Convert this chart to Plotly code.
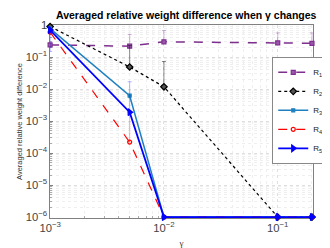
import plotly.graph_objects as go

gamma = [0.001, 0.005, 0.01, 0.1, 0.2]
R1 = [0.24, 0.22, 0.30, 0.28, 0.27]
R1_up = [0.0, 0.29, 0.38, 0.29, 0.30]
R2 = [0.9, 0.049, 0.0118, 1e-6, 1e-6]
R2_up = [0.0, 0.18, 0.061, 0.0, 0.0]
R3 = [0.78, 0.0062, 1e-6, 1e-6, 1e-6]
R3_up = [0.0, 0.0, 0.0, 0.0, 0.0]
R4 = [0.6, 2.2e-4, 1e-6, 1e-6, 1e-6]
R4_up = [0.0, 0.0017, 0.0, 0.0, 0.0]
R5 = [0.7, 0.0019, 1e-6, 1e-6, 1e-6]
R5_up = [0.0, 0.015, 0.0, 0.0, 0.0]
R_low0 = [0.55, 0.0, 0.0, 0.0, 0.0]

names = ["R<sub>1</sub>", "R<sub>2</sub>", "R<sub>3</sub>", "R<sub>4</sub>", "R<sub>5</sub>"]

fig = go.Figure()

def add(y, up, low, name, color, ecolor, dash, width, symbol, msize, mfill, mline):
    fig.add_trace(go.Scatter(
        x=gamma, y=y, name=name, mode="lines+markers", cliponaxis=False,
        line=dict(color=color, dash=dash, width=width),
        marker=dict(symbol=symbol, size=msize, color=mfill, line=dict(color=mline, width=1.2)),
        error_y=dict(type="data", symmetric=False, array=up, arrayminus=low,
                     color=ecolor, thickness=1, width=2),
    ))

zeros = [0.0] * 5
add(R1, R1_up, zeros, names[0], "#7E2F8E", "rgba(126,47,142,0.35)", "dash", 1.5, "square", 4, "#9b59ad", "#7E2F8E")
add(R2, R2_up, zeros, names[1], "black", "rgba(0,0,0,0.45)", "dot", 1.2, "diamond", 5, "#555555", "black")
add(R3, R3_up, zeros, names[2], "#1f80c0", "rgba(31,128,192,0.35)", "solid", 1.5, "square", 3, "#1f80c0", "#1f80c0")
add(R4, R4_up, zeros, names[3], "#ff0000", "rgba(255,0,0,0.3)", "dash", 1.2, "circle-open", 4, "#ff0000", "#ff0000")
add(R5, R5_up, R_low0, names[4], "#0000ff", "rgba(0,0,255,0.3)", "solid", 1.8, "triangle-right", 6, "#0000ff", "#0000ff")

axis_common = dict(
    type="log", dtick=1, exponentformat="power", showexponent="all",
    showgrid=True, gridcolor="#e0e0e0", griddash="dot", gridwidth=1,
    showline=True, linecolor="#808080", linewidth=1, mirror=True,
    ticks="inside", ticklen=3, tickcolor="#808080",
    tickfont=dict(family="Liberation Sans, Arial", size=9, color="#444"),
    minor=dict(showgrid=True, gridcolor="#efefef", griddash="dot", ticks="inside", ticklen=2, tickcolor="#aaaaaa"),
    zeroline=False, layer="below traces",
)

fig.update_layout(
    width=330, height=248,
    margin=dict(l=34, r=10, t=17, b=36),
    paper_bgcolor="white", plot_bgcolor="white",
    title=dict(text="<b>Averaged relative weight difference when γ changes</b>",
               x=0.54, xanchor="center", y=0.985, yanchor="top",
               font=dict(family="Liberation Sans, Arial", size=10.5, color="black")),
    xaxis=dict(axis_common, range=[-3.001, -0.69],
               title=dict(text="γ", font=dict(family="Liberation Serif", size=9, color="#333"), standoff=6)),
    yaxis=dict(axis_common, range=[-6.03, 0.003],
               title=dict(text="Averaged relative weight difference", font=dict(family="Liberation Sans, Arial", size=7.5, color="#333"), standoff=2)),
    legend=dict(x=0.845, y=0.835, xanchor="left", yanchor="top",
                bgcolor="white", bordercolor="#888", borderwidth=1,
                font=dict(family="Liberation Sans, Arial", size=8, color="#222"),
                itemwidth=30, tracegroupgap=0),
    showlegend=True,
)

fig.write_html("out.html")
